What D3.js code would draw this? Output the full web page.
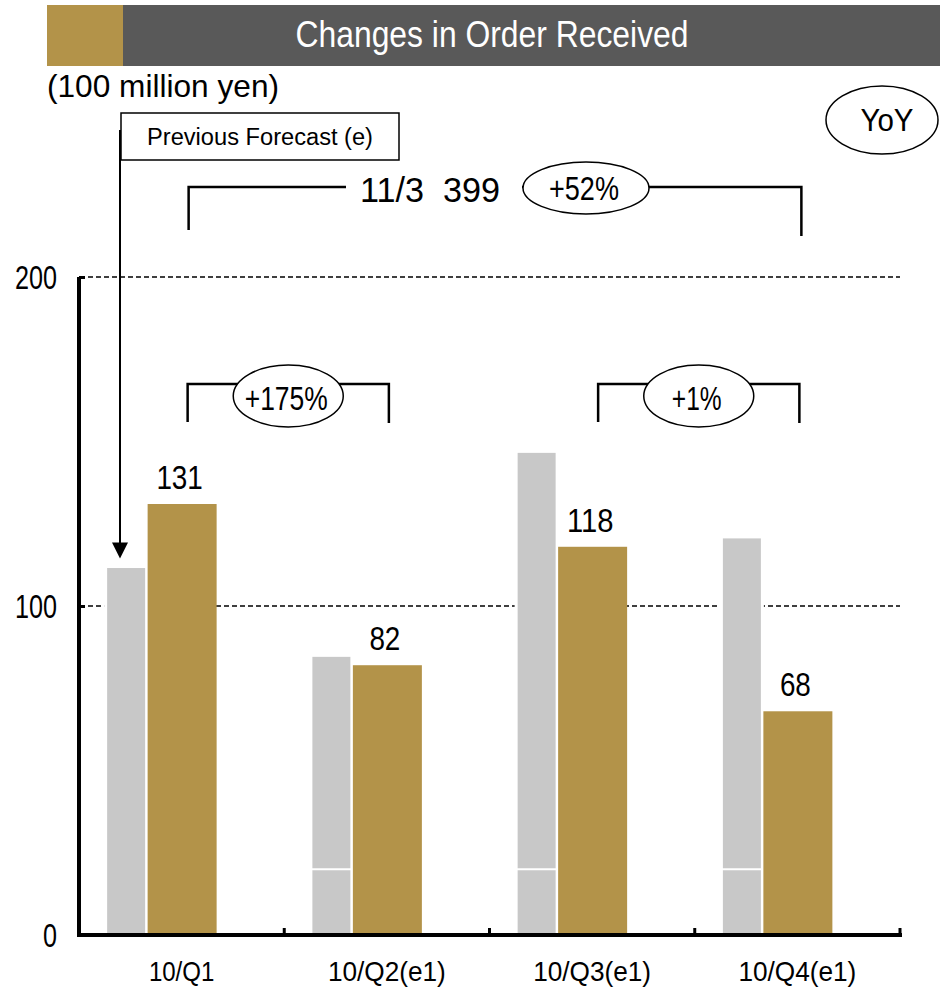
<!DOCTYPE html>
<html>
<head>
<meta charset="utf-8">
<script src="https://cdn.jsdelivr.net/npm/d3@7"></script>
<style>
  html, body { margin: 0; padding: 0; background: #fff; }
  svg { display: block; }
  text { font-family: "Liberation Sans Narrow", "Arial Narrow", "Liberation Sans", Arial, sans-serif; fill: #000; white-space: pre; }
</style>
</head>
<body>
<svg id="chart" width="940" height="987"></svg>
<script>
// Quarterly orders received (100 million yen)
const quarters = ["10/Q1", "10/Q2(e1)", "10/Q3(e1)", "10/Q4(e1)"];
const orders = [131, 82, 118, 68];
// Previous forecast, with the lower split where one was shown
const previousForecast = [112, 85, 147, 121];
const previousSplit = [null, 20, 20, 20];
const yTicks = [0, 100, 200];
// Year-on-year comparisons: [first quarter, last quarter, label]
const yoyHalves = [[0, 1, "+175%"], [2, 3, "+1%"]];
const yoyYear = "+52%";
const fiscalYear = "11/3";

const GOLD = "#B39349", GRAY = "#C8C8C8", DARK = "#595959";
const svg = d3.select("#chart");

// Text helper: fixed rendered width so the narrow lettering holds its size
function label(g, str, x, y, size, width, anchor) {
  return g.append("text")
    .attr("x", x).attr("y", y)
    .attr("font-size", size)
    .attr("text-anchor", anchor || "start")
    .attr("textLength", width)
    .attr("lengthAdjust", "spacingAndGlyphs")
    .text(str);
}

// Header bar
svg.append("rect").attr("x", 47).attr("y", 5).attr("width", 893).attr("height", 61).attr("fill", DARK);
svg.append("rect").attr("x", 47).attr("y", 5).attr("width", 76).attr("height", 61).attr("fill", GOLD);
label(svg, "Changes in Order Received", 492, 47, 36, 393, "middle").style("fill", "#fff");

label(svg, "(100 million yen)", 47, 97, 32, 232);

// Scales
const x = d3.scaleBand().domain(quarters).range([79, 900]).padding(0);
const y = d3.scaleLinear().domain([0, 200]).range([935, 277]);
const cx = q => x(q) + x.bandwidth() / 2;

// Dashed gridlines
svg.append("g").selectAll("line").data(yTicks.filter(d => d > 0)).join("line")
  .attr("x1", 80).attr("x2", 900)
  .attr("y1", d => y(d)).attr("y2", d => y(d))
  .attr("stroke", "#000").attr("stroke-width", 1.4).attr("stroke-dasharray", "5,3");

// Previous forecast bars (grey, white outline)
const prev = svg.append("g");
quarters.forEach((q, i) => {
  const bx = cx(q) - 76, bw = 41;
  prev.append("rect")
    .attr("x", bx).attr("y", y(previousForecast[i]))
    .attr("width", bw).attr("height", y(0) - y(previousForecast[i]))
    .attr("fill", GRAY).attr("stroke", "#fff").attr("stroke-width", 3);
  if (previousSplit[i] != null) {
    prev.append("line")
      .attr("x1", bx).attr("x2", bx + bw)
      .attr("y1", y(previousSplit[i])).attr("y2", y(previousSplit[i]))
      .attr("stroke", "#fff").attr("stroke-width", 2);
  }
});

// Orders received bars
svg.append("g").selectAll("rect").data(orders).join("rect")
  .attr("x", (d, i) => cx(quarters[i]) - 34)
  .attr("y", d => y(d))
  .attr("width", 69)
  .attr("height", d => y(0) - y(d))
  .attr("fill", GOLD);

// Value labels
const vals = svg.append("g");
orders.forEach((d, i) => {
  const s = String(d);
  label(vals, s, cx(quarters[i]) - 2, y(d) - 15, 34, s.length * 15.5, "middle");
});

// Axes
const yAxis = svg.append("g").attr("transform", "translate(79,0)")
  .call(d3.axisLeft(y).tickValues(yTicks).tickSize(-6).tickFormat(""));
yAxis.select(".domain").attr("stroke-width", 4).attr("d", `M0,${y(200)}V${y(0)}`);
yAxis.selectAll(".tick line").attr("stroke-width", 3);
yTicks.forEach(t => {
  const s = String(t);
  label(svg, s, 57, y(t) + 12, 33, s.length * 14, "end");
});

const xAxis = svg.append("g").attr("transform", `translate(0,${y(0)})`)
  .call(d3.axisBottom(x).tickSize(0).tickFormat(""));
xAxis.select(".domain").attr("stroke-width", 4).attr("d", "M77,0H902");
svg.append("g").selectAll("line").data(quarters).join("line")
  .attr("x1", q => x(q) + x.bandwidth())
  .attr("x2", q => x(q) + x.bandwidth())
  .attr("y1", y(0)).attr("y2", y(0) - 7)
  .attr("stroke", "#000").attr("stroke-width", 3);
quarters.forEach(q => {
  label(svg, q, cx(q), 981, 28, q.length * 13.1, "middle");
});

// "Previous Forecast" callout with arrow to the first grey bar
const call = svg.append("g");
call.append("rect").attr("x", 121).attr("y", 113).attr("width", 278).attr("height", 47)
  .attr("fill", "#fff").attr("stroke", "#000").attr("stroke-width", 1.5);
label(call, "Previous Forecast (e)", 147, 145, 23, 226);
const ax = 120, tipY = y(previousForecast[0]) - 8;
call.append("line").attr("x1", ax).attr("x2", ax).attr("y1", 130).attr("y2", tipY - 14)
  .attr("stroke", "#000").attr("stroke-width", 2);
call.append("path").attr("d", `M${ax - 8},${tipY - 16}L${ax + 8},${tipY - 16}L${ax},${tipY}Z`).attr("fill", "#000");

// YoY legend ellipse
const yoy = svg.append("g");
yoy.append("ellipse").attr("cx", 882).attr("cy", 120).attr("rx", 56).attr("ry", 34)
  .attr("fill", "#fff").attr("stroke", "#000").attr("stroke-width", 1.5);
label(yoy, "YoY", 887, 131, 31, 53, "middle");

// Bracket helper
function bracket(g, x1, x2, top, leftDrop, rightDrop) {
  g.append("path")
    .attr("d", `M${x1},${top + leftDrop}V${top}H${x2}V${top + rightDrop}`)
    .attr("fill", "none").attr("stroke", "#000").attr("stroke-width", 2.5);
}

// Full-year bracket
const fy = svg.append("g");
const fyL = cx(quarters[0]) + 7, fyR = cx(quarters[3]) + 4;
bracket(fy, fyL, fyR, 187, 43, 49);
fy.append("rect").attr("x", 346).attr("y", 170).attr("width", 176).attr("height", 36).attr("fill", "#fff");
label(fy, `${fiscalYear}  ${d3.sum(orders)}`, 360, 202, 35, 140);
fy.append("ellipse").attr("cx", 586).attr("cy", 188).attr("rx", 63).attr("ry", 26)
  .attr("fill", "#fff").attr("stroke", "#000").attr("stroke-width", 1.5);
label(fy, yoyYear, 584, 200, 34, 70, "middle");

// Half-year brackets
yoyHalves.forEach(([a, b, txt]) => {
  const g = svg.append("g");
  const l = cx(quarters[a]) + 6, r = cx(quarters[b]) + 2;
  bracket(g, l, r, 384, 38, 39);
  const mx = (l + r) / 2;
  g.append("ellipse").attr("cx", mx).attr("cy", 396).attr("rx", 55).attr("ry", 31)
    .attr("fill", "#fff").attr("stroke", "#000").attr("stroke-width", 1.5);
  label(g, txt, mx - 2, 410, 34, txt.length * 16.6, "middle");
});
</script>
</body>
</html>
